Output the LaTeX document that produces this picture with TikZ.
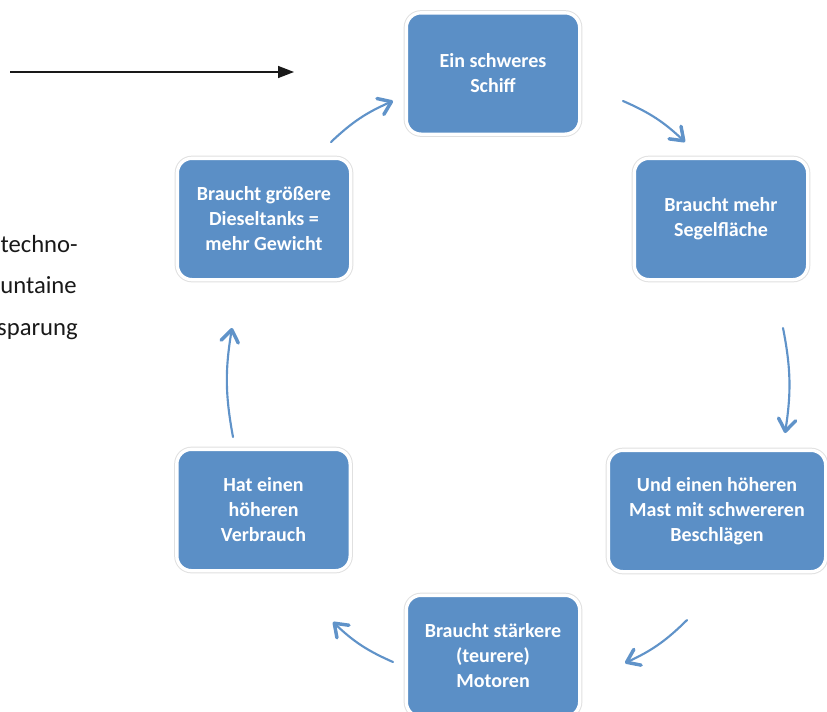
\documentclass[tikz,border=0pt]{standalone}
\usepackage{fontspec}
\setmainfont{Carlito}
\usepackage{xcolor}
\usepackage{tikz}
\usetikzlibrary{arrows.meta,positioning}

\definecolor{kastenblau}{RGB}{91,143,198}
\definecolor{pfeilblau}{RGB}{96,147,201}

\tikzset{
  kasten/.style={rectangle, rounded corners=11pt, fill=kastenblau, draw=white, line width=2.5pt,
    preaction={draw=black!12, line width=4pt}, text=white, align=center, inner sep=0pt,
    font=\fontsize{15}{18.75}\selectfont\bfseries, minimum width=130pt, minimum height=91pt,
    execute at begin node={\rule{0pt}{15.5pt}}},
  kreispfeil/.style={draw=pfeilblau, line width=1.6pt, line cap=round,
    -{Straight Barb[round, length=9pt, width=13pt, line width=2.6pt]}},
  randtext/.style={anchor=base east, inner sep=0pt, text=black!90, font=\fontsize{18.5}{22}\selectfont}
}

\begin{document}
\begin{tikzpicture}[x=0.75pt, y=-0.75pt]
  \useasboundingbox (0,0) rectangle (827,711);
  \clip (0,0) rectangle (827,711);

  % Text am linken Rand (angeschnitten)
  \node[randtext] (zeile1) at (78,252) {techno-};
  \node[randtext] (zeile2) at (77,293) {untaine};
  \node[randtext] (zeile3) at (78,335) {sparung};

  % Schwarzer Pfeil
  \coordinate (pfeilanfang) at (10,72);
  \coordinate (pfeilspitze) at (294,72);
  \draw[black!90, line width=1.1pt, -{Triangle[length=12pt, width=9pt]}] (pfeilanfang) -- (pfeilspitze);

  % Kaesten im Kreis
  \node[kasten] (schiff) at (493,73.5) {Ein schweres\\Schiff};
  \node[kasten] (segel) at (721,219) {Braucht mehr\\Segelfläche};
  \node[kasten, minimum width=163pt] (mast) at (717,511) {Und einen höheren\\Mast mit schwereren\\Beschlägen};
  \node[kasten] (motor) at (493,656) {Braucht stärkere\\(teurere)\\Motoren};
  \node[kasten] (verbrauch) at (263.5,510) {Hat einen\\höheren\\Verbrauch};
  \node[kasten] (tank) at (264,219) {Braucht größere\\Dieseltanks =\\mehr Gewicht};

  % Pfeilenden
  \coordinate (p1a) at (331,142); \coordinate (p1b) at (393,101);
  \coordinate (p2a) at (623,101); \coordinate (p2b) at (685,142);
  \coordinate (p3a) at (783,328); \coordinate (p3b) at (785,433);
  \coordinate (p4a) at (687,620); \coordinate (p4b) at (625,663);
  \coordinate (p5a) at (393,662); \coordinate (p5b) at (333,622);
  \coordinate (p6a) at (233,437); \coordinate (p6b) at (232,328);

  % Kreispfeile
  \draw[kreispfeil] (p1a) to[bend left=10] (p1b);
  \draw[kreispfeil] (p2a) to[bend left=10] (p2b);
  \draw[kreispfeil] (p3a) to[bend left=10] (p3b);
  \draw[kreispfeil] (p4a) to[bend left=10] (p4b);
  \draw[kreispfeil] (p5a) to[bend left=10] (p5b);
  \draw[kreispfeil] (p6a) to[bend left=10] (p6b);
\end{tikzpicture}
\end{document}
